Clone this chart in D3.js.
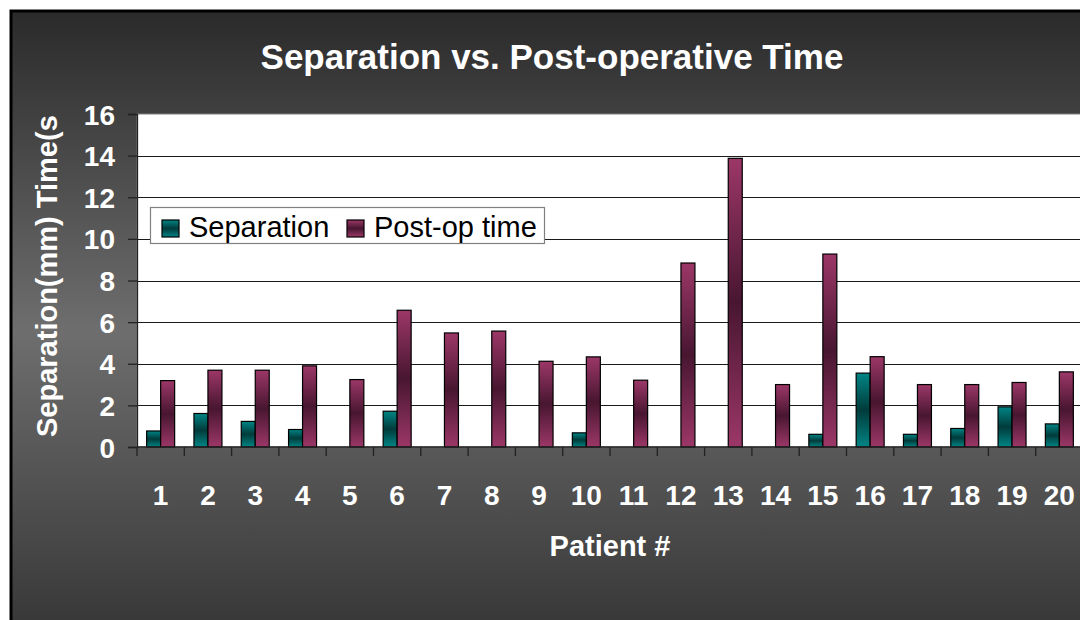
<!DOCTYPE html>
<html><head><meta charset="utf-8">
<script src="https://cdn.jsdelivr.net/npm/d3@7"></script>
<style>
html,body{margin:0;padding:0;background:#fff;overflow:hidden}
svg{display:block}
text{font-family:Arial,"Liberation Sans",sans-serif}
</style></head>
<body>
<svg id="c" width="1080" height="620"></svg>
<script>
const patients = ["1","2","3","4","5","6","7","8","9","10","11","12","13","14","15","16","17","18","19","20"];
const seriesNames = ["Separation","Post-op time"];
const separation = [0.77,1.61,1.23,0.84,0,1.72,0,0,0,0.68,0,0,0,0,0.61,3.55,0.61,0.89,1.93,1.11];
const postOpTime = [3.19,3.69,3.69,3.90,3.24,6.57,5.48,5.57,4.12,4.33,3.21,8.84,13.87,3.00,9.27,4.34,3.00,3.00,3.10,3.61];
const yTicks = [0,2,4,6,8,10,12,14,16];
const titleText = "Separation vs. Post-operative Time";
const xTitle = "Patient #";
const yTitle = "Separation(mm) Time(s)";

const svg = d3.select("#c");
const defs = svg.append("defs");

const bg = defs.append("linearGradient").attr("id","bg").attr("x1",0).attr("y1",0).attr("x2",0).attr("y2",1);
bg.append("stop").attr("offset","0%").attr("stop-color","#2a2a2a");
bg.append("stop").attr("offset","50%").attr("stop-color","#6e6e6e");
bg.append("stop").attr("offset","100%").attr("stop-color","#333333");

const grads = [
  {id:"gTeal", edge:"#008585", mid:"#013b3b"},
  {id:"gMag", edge:"#9c3768", mid:"#481630"}
];
grads.forEach(g=>{
  const lg = defs.append("linearGradient").attr("id",g.id).attr("x1",0).attr("y1",0).attr("x2",0).attr("y2",1);
  lg.append("stop").attr("offset","0%").attr("stop-color",g.edge);
  lg.append("stop").attr("offset","50%").attr("stop-color",g.mid);
  lg.append("stop").attr("offset","100%").attr("stop-color",g.edge);
});
const fills = ["url(#gTeal)","url(#gMag)"];

svg.append("rect").attr("x",11).attr("y",11).attr("width",1100).attr("height",640)
  .attr("fill","url(#bg)").attr("stroke","#000").attr("stroke-width",3);

const plot = {left:137, top:114, right:1083, bottom:447};

const x0 = d3.scaleBand().domain(patients).range([plot.left, plot.right]).paddingInner(0).paddingOuter(0);
const x1 = d3.scaleBand().domain(seriesNames).range([0, x0.bandwidth()]).paddingInner(0).paddingOuter(0.69);
const y = d3.scaleLinear().domain([0,16]).range([plot.bottom, plot.top]);

svg.append("rect").attr("x",plot.left).attr("y",plot.top).attr("width",plot.right-plot.left).attr("height",plot.bottom-plot.top)
  .attr("fill","#fff").attr("stroke","#808080").attr("stroke-width",1);

svg.append("g").selectAll("line").data(yTicks.filter(t=>t>0 && t<16)).join("line")
  .attr("x1",plot.left).attr("x2",plot.right)
  .attr("y1",d=>Math.round(y(d))+0.5).attr("y2",d=>Math.round(y(d))+0.5)
  .attr("stroke","#1a1a1a").attr("stroke-width",1);

svg.append("text").attr("x",552).attr("y",69).attr("text-anchor","middle")
  .attr("fill","#fff").attr("font-weight","bold").attr("font-size",35).text(titleText);

const data = patients.map((p,i)=>({p, vals:[separation[i], postOpTime[i]]}));
const grp = svg.append("g").selectAll("g").data(data).join("g")
  .attr("transform",d=>`translate(${x0(d.p)},0)`);
grp.selectAll("rect").data(d=>d.vals.map((v,k)=>({v,k}))).join("rect")
  .filter(d=>d.v>0)
  .attr("x",d=>x1(seriesNames[d.k]))
  .attr("y",d=>y(d.v))
  .attr("width",x1.bandwidth())
  .attr("height",d=>y(0)-y(d.v))
  .attr("fill",d=>fills[d.k])
  .attr("stroke","#000").attr("stroke-width",1.2);

const yAxis = d3.axisLeft(y).tickValues(yTicks).tickSize(9).tickPadding(13).tickFormat(d3.format("d"));
const ya = svg.append("g").attr("transform",`translate(${plot.left},0)`).call(yAxis);
ya.select(".domain").attr("stroke","#222").attr("stroke-width",1.3);
ya.selectAll(".tick line").attr("stroke","#222").attr("stroke-width",1.3);
ya.selectAll(".tick text").attr("fill","#fff").attr("font-weight","bold").attr("font-size",28)
  .attr("font-family","Arial, 'Liberation Sans', sans-serif").attr("dy","0.36em");

const xa = svg.append("g").attr("transform",`translate(0,${plot.bottom})`);
xa.append("line").attr("x1",plot.left).attr("x2",plot.right).attr("y1",0).attr("y2",0).attr("stroke","#222").attr("stroke-width",1.3);
const bounds = patients.map(p=>x0(p)).concat([plot.right]);
xa.selectAll("line.tk").data(bounds).join("line").attr("class","tk")
  .attr("x1",d=>d).attr("x2",d=>d).attr("y1",0).attr("y2",9).attr("stroke","#222").attr("stroke-width",1.3);
xa.selectAll("text").data(patients).join("text")
  .attr("x",d=>x0(d)+x0.bandwidth()/2).attr("y",58).attr("text-anchor","middle")
  .attr("fill","#fff").attr("font-weight","bold").attr("font-size",28).text(d=>d);

svg.append("text").attr("x",(plot.left+plot.right)/2).attr("y",556).attr("text-anchor","middle")
  .attr("fill","#fff").attr("font-weight","bold").attr("font-size",29).text(xTitle);

defs.append("clipPath").attr("id","yclip").append("rect").attr("x",0).attr("y",116).attr("width",100).attr("height",500);
svg.append("g").attr("clip-path","url(#yclip)")
  .append("text").attr("transform","translate(57,437) rotate(-90)").attr("text-anchor","start")
  .attr("fill","#fff").attr("font-weight","bold").attr("font-size",29).text(yTitle);

const lg = svg.append("g");
lg.append("rect").attr("x",150.5).attr("y",207.5).attr("width",394).attr("height",36)
  .attr("fill","#fff").attr("stroke","#808080").attr("stroke-width",1.2);
const legX = [162, 347];
seriesNames.forEach((s,i)=>{
  lg.append("rect").attr("x",legX[i]).attr("y",220).attr("width",17).attr("height",17)
    .attr("fill",fills[i]).attr("stroke","#000").attr("stroke-width",1.2);
  lg.append("text").attr("x",legX[i]+27).attr("y",237).attr("fill","#000").attr("font-size",29).text(s);
});
</script>
</body></html>
